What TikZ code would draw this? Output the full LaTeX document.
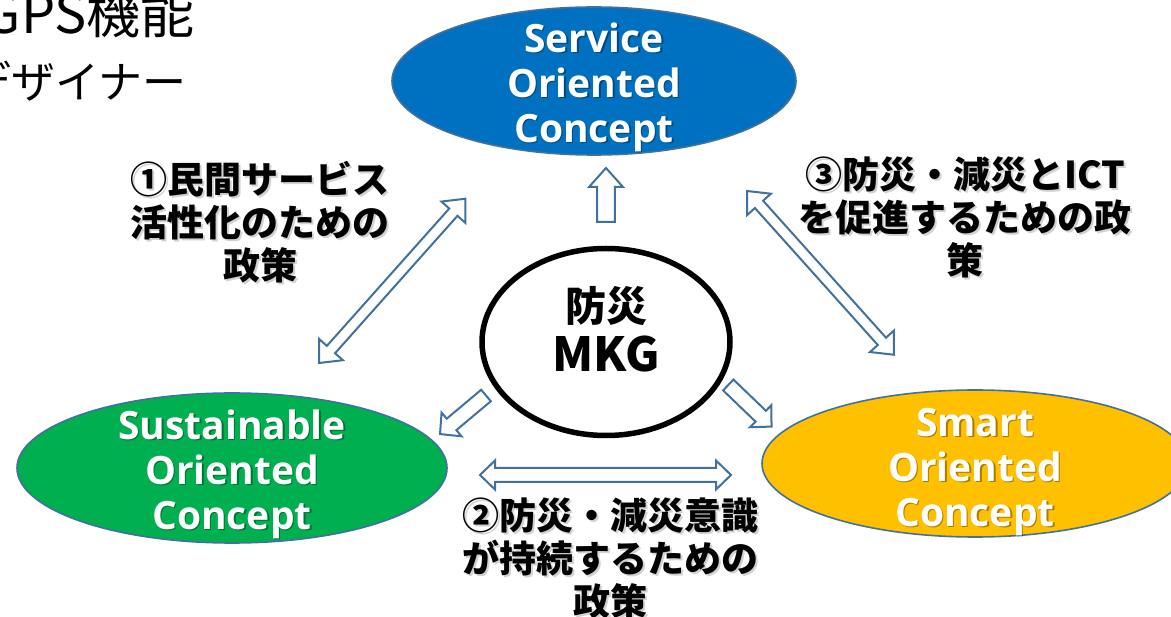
\documentclass[tikz,border=0pt]{standalone}
\usepackage{fontspec}
\newfontfamily\jp{Noto Sans CJK JP}
\newfontfamily\os{Open Sans}
\definecolor{soblue}{HTML}{0070C0}
\definecolor{sogreen}{HTML}{00B050}
\definecolor{soyellow}{HTML}{FFC000}
\definecolor{edgeblue}{HTML}{41719C}
\tikzset{
  ell/.style={ellipse, draw=edgeblue, line width=1.6pt, inner sep=0pt},
  etext/.style={text=white, align=center, inner sep=0pt, font=\os\bfseries\fontsize{39}{45}\selectfont},
  eshadow/.style={etext, text=black, text opacity=0.35},
  lbl/.style={align=center, inner sep=0pt, font=\jp\bfseries\fontsize{37}{43}\selectfont},
  lblshadow/.style={lbl, text=black!35, text opacity=0.5},
  blockarr/.style={draw=edgeblue, fill=white, line width=2pt, line join=miter},
  corner/.style={anchor=base east, inner sep=0pt, font=\jp}
}
\usetikzlibrary{shapes.geometric}
% double block arrow: x, y, angle, length, shaft half width, head half width, head length
\newcommand\dblblock[7]{%
  \begin{scope}[shift={(#1,#2)},rotate=#3]
    \draw[blockarr] (0,0) -- (#7,#6) -- (#7,#5) -- ({#4-#7},#5) -- ({#4-#7},#6) -- (#4,0)
      -- ({#4-#7},-#6) -- ({#4-#7},-#5) -- (#7,-#5) -- (#7,-#6) -- cycle;
  \end{scope}}
% single block arrow: x, y (tail centre), angle, length, shaft half width, head half width, head length
\newcommand\sglblock[7]{%
  \begin{scope}[shift={(#1,#2)},rotate=#3]
    \draw[blockarr] (0,#5) -- ({#4-#7},#5) -- ({#4-#7},#6) -- (#4,0)
      -- ({#4-#7},-#6) -- ({#4-#7},-#5) -- (0,-#5) -- cycle;
  \end{scope}}
\begin{document}
\begin{tikzpicture}[x=1pt,y=-1pt]
\useasboundingbox (0,0) rectangle (1171,617);
\fill[white] (0,0) rectangle (1171,617);

% corner text (cut off)
\node[corner, font=\jp\fontsize{54}{60}\selectfont] (gps) at (195,34) {GPS機能};
\node[corner, font=\jp\fontsize{44}{52}\selectfont] (des) at (187,99) {デザイナー};

% ellipses
\node[ell, fill=soblue, minimum width=404pt, minimum height=148pt] (soc) at (594,81) {};
\node[ell, fill=sogreen, minimum width=430pt, minimum height=150pt] (susoc) at (232,468) {};
\node[ell, fill=soyellow, minimum width=426pt, minimum height=147pt] (smoc) at (975,463.5) {};
\node[ellipse, draw=black, line width=5.5pt, fill=white, minimum width=248pt, minimum height=187pt, inner sep=0pt] (mkg) at (606,342) {};

% ellipse texts
\node[eshadow] (socs) at (595.5,88.5) {Service\\Oriented\\Concept};
\node[etext] (soct) at (594,87) {Service\\Oriented\\Concept};
\node[eshadow] (susocs) at (233.5,475.5) {Sustainable\\Oriented\\Concept};
\node[etext] (susoct) at (232,474) {Sustainable\\Oriented\\Concept};
\node[eshadow] (smocs) at (976.5,473.5) {Smart\\Oriented\\Concept};
\node[etext] (smoct) at (975,472) {Smart\\Oriented\\Concept};

% centre text
\node[inner sep=0pt, font=\jp\bfseries\fontsize{41}{48}\selectfont] (bousai) at (606,306) {防災};
\node[inner sep=0pt, font=\jp\bfseries\fontsize{47}{48}\selectfont] (mkgt) at (606,354) {MKG};

% block arrows
\dblblock{319}{363}{48.3}{220}{5.5}{16}{18}
\dblblock{747}{191}{-48.1}{220}{5.5}{16}{18}
\dblblock{480}{475}{0}{251}{7}{14.5}{15}
\sglblock{606}{222}{90}{54}{8.8}{17}{19}
\sglblock{486}{395.5}{220}{60}{7.5}{15.5}{15}
\sglblock{728.3}{385}{-43.9}{60}{7.5}{15.3}{15}

% labels
\node[lblshadow] (l1s) at (262,224) {①民間サービス\\活性化のための\\政策};
\node[lbl] (l1) at (260,222) {①民間サービス\\活性化のための\\政策};
\node[lblshadow] (l2s) at (612,560) {②防災・減災意識\\が持続するための\\政策};
\node[lbl] (l2) at (610,558) {②防災・減災意識\\が持続するための\\政策};
\node[lblshadow] (l3s) at (967,219) {③防災・減災とICT\\を促進するための政\\策};
\node[lbl] (l3) at (965,217) {③防災・減災とICT\\を促進するための政\\策};
\end{tikzpicture}
\end{document}
